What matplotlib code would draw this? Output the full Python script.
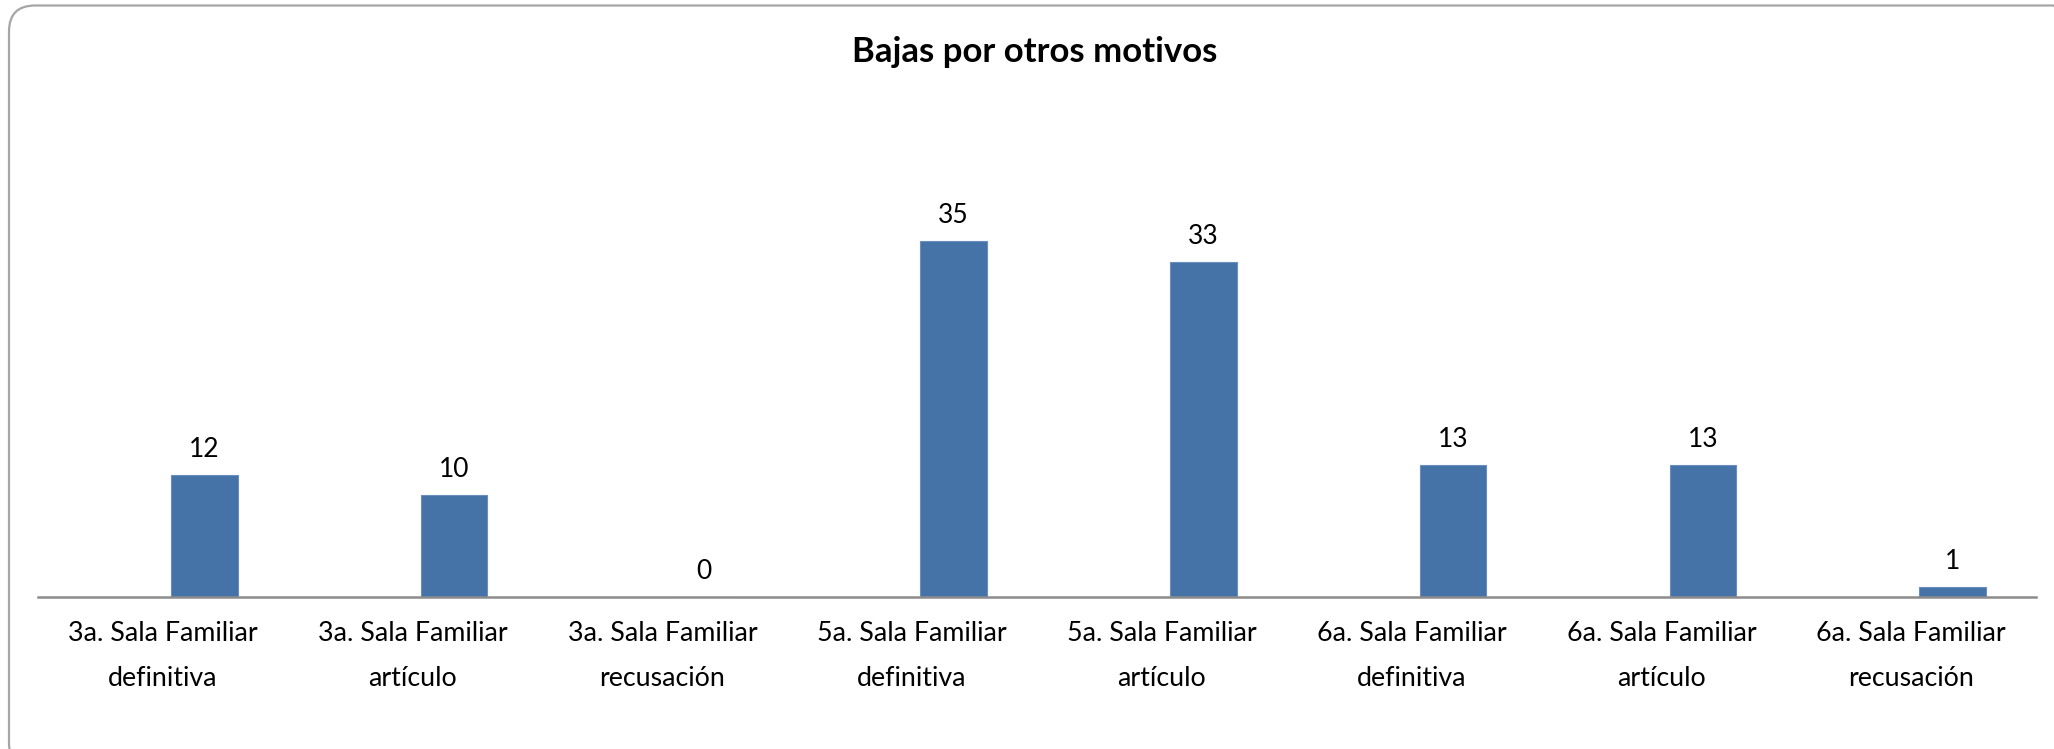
import matplotlib.pyplot as plt
from matplotlib.patches import FancyBboxPatch
from matplotlib.transforms import IdentityTransform

CATEGORIES = [
    "3a. Sala Familiar\ndefinitiva",
    "3a. Sala Familiar\nartículo",
    "3a. Sala Familiar\nrecusación",
    "5a. Sala Familiar\ndefinitiva",
    "5a. Sala Familiar\nartículo",
    "6a. Sala Familiar\ndefinitiva",
    "6a. Sala Familiar\nartículo",
    "6a. Sala Familiar\nrecusación",
]
VALUES = [12, 10, 0, 35, 33, 13, 13, 1]
TITLE = "Bajas por otros motivos"

BAR_COLOR = "#4573A7"
AXIS_COLOR = "#8C8C8C"

plt.rcParams["font.family"] = ["Lato", "DejaVu Sans"]

W, H = 2054, 749
fig = plt.figure(figsize=(W / 100, H / 100), dpi=100)

# rounded chart border (pixel coordinates)
border = FancyBboxPatch(
    (9, -20), 2070, 749 - 5.5 + 20,
    boxstyle="round,pad=0,rounding_size=26",
    transform=IdentityTransform(), facecolor="none",
    edgecolor="#A6A6A6", linewidth=1.6,
)
fig.patches.append(border)

ax = fig.add_axes([38 / W, (H - 597) / H, 1998 / W, 406.4 / H])

offset = 0.166
xs = [i + offset for i in range(len(VALUES))]
ax.bar(xs, VALUES, width=0.266, color=BAR_COLOR, edgecolor="#6A8EBF", linewidth=0.8)

for x, v in zip(xs, VALUES):
    ax.annotate(str(v), (x, v), xytext=(0, 13), textcoords="offset points",
                ha="center", va="baseline", fontsize=19, color="black")

ax.set_xlim(-0.5, len(VALUES) - 0.5)
ax.set_ylim(0, 40)
ax.set_xticks(range(len(CATEGORIES)))
ax.set_xticklabels(CATEGORIES, fontsize=19.3, linespacing=2.0)
ax.tick_params(axis="x", length=0, pad=17)
ax.set_yticks([])
for side in ["left", "right", "top"]:
    ax.spines[side].set_visible(False)
ax.spines["bottom"].set_color(AXIS_COLOR)
ax.spines["bottom"].set_linewidth(1.8)

fig.text(1035 / W, 1 - 52 / H, TITLE, ha="center", va="center",
         fontsize=25, fontweight="bold")

fig.savefig("out.png", dpi=100)
